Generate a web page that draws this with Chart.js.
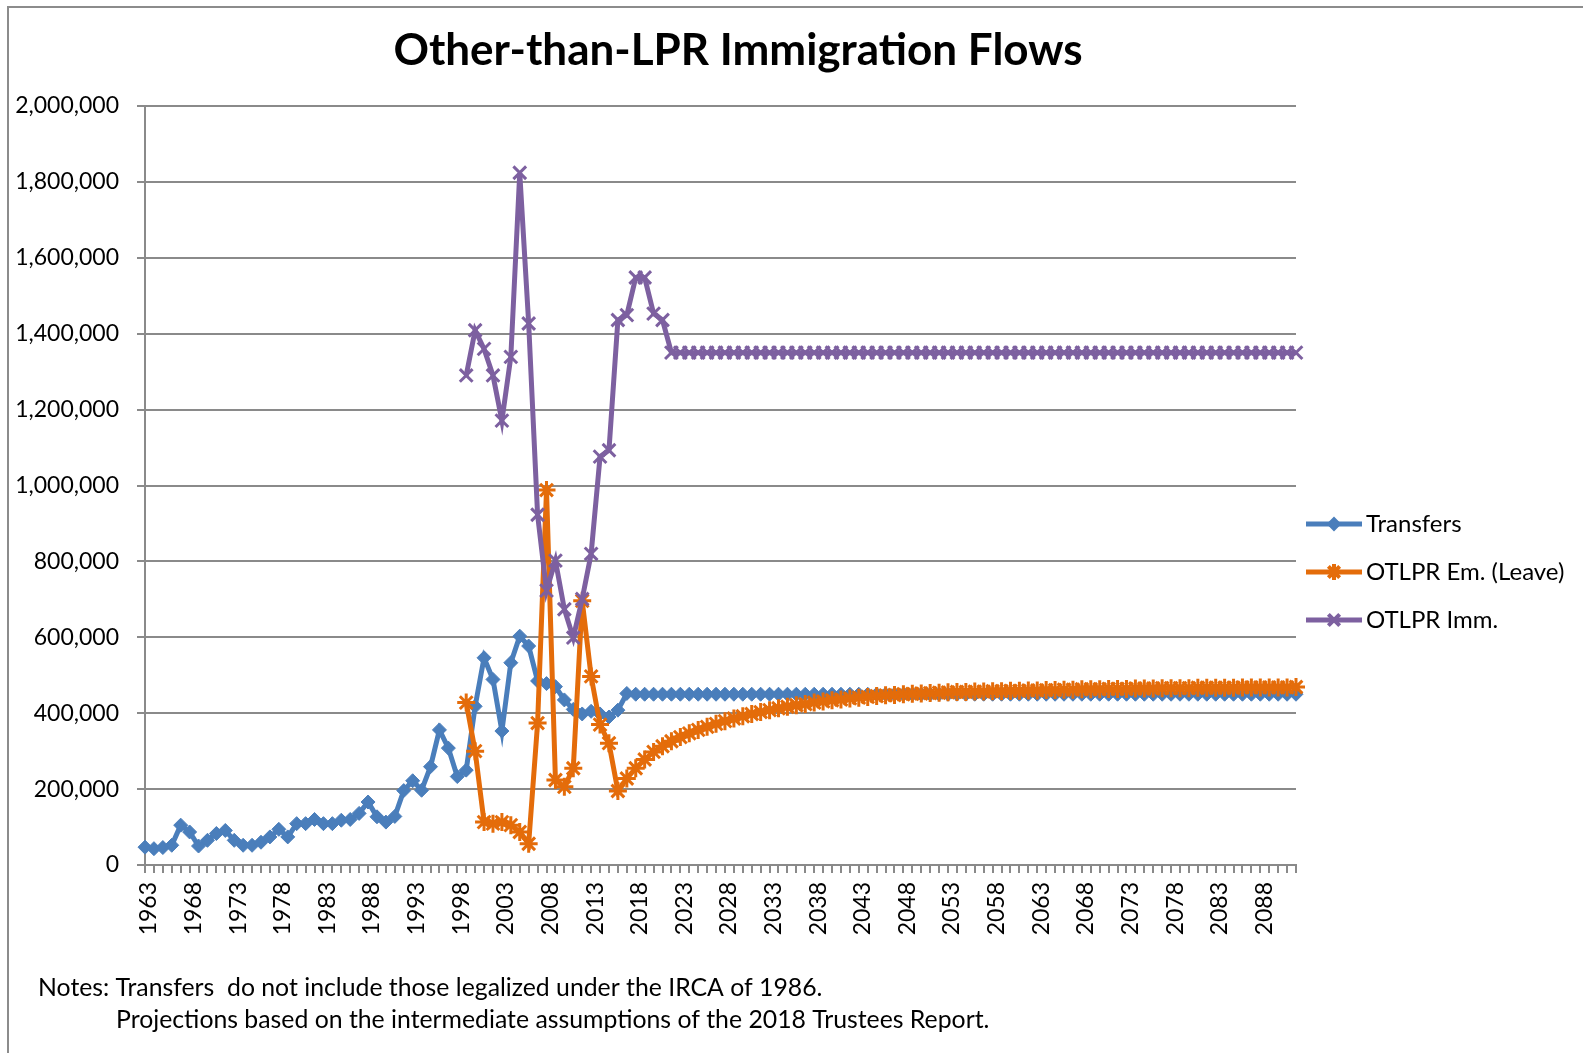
<!DOCTYPE html>
<html>
<head>
<meta charset="utf-8">
<title>Other-than-LPR Immigration Flows</title>
<script src="https://cdn.jsdelivr.net/npm/chart.js@4.4.0/dist/chart.umd.min.js"></script>
<style>
  html, body { margin: 0; padding: 0; background: #fff; }
  #wrap { position: relative; width: 1583px; height: 1053px; overflow: hidden; }
  #frame {
    position: absolute; left: 7px; top: 6px; width: 1620px; height: 1100px;
    border-top: 2px solid #8c8c8c; border-left: 2px solid #8c8c8c;
  }
  canvas { position: absolute; left: 0; top: 0; }
</style>
</head>
<body>
<div id="wrap">
  <div id="frame"></div>
  <canvas id="flowChart" width="1583" height="1053"></canvas>
</div>
<script>
// 数据（单位：千人）
const chartTitle = 'Other-than-LPR Immigration Flows';
const notes = [
  'Notes: Transfers  do not include those legalized under the IRCA of 1986.',
  'Projections based on the intermediate assumptions of the 2018 Trustees Report.'
];

const firstYear = 1963;
const lastYear = 2092;
const years = [];
for (let y = firstYear; y <= lastYear; y++) years.push(String(y));

// Transfers, 1963-2092
const transfers = [
  47, 43, 46, 52, 105, 87, 50, 65, 83, 91,
  65, 52, 52, 60, 74, 94, 74, 109, 109, 120,
  109, 109, 118, 120, 136, 166, 127, 113, 128, 196,
  222, 197, 259, 356, 308, 233, 250, 418, 546, 489,
  353, 533, 603, 577, 485, 478, 470, 435, 410, 398,
  405, 398, 390, 408, 452, 450, 450, 450, 450, 450,
  450, 450, 450, 450, 450, 450, 450, 450, 450, 450,
  450, 450, 450, 450, 450, 450, 450, 450, 450, 450,
  450, 450, 450, 450, 450, 450, 450, 450, 450, 450,
  450, 450, 450, 450, 450, 450, 450, 450, 450, 450,
  450, 450, 450, 450, 450, 450, 450, 450, 450, 450,
  450, 450, 450, 450, 450, 450, 450, 450, 450, 450,
  450, 450, 450, 450, 450, 450, 450, 450, 450, 450
];

// OTLPR 系列从 1999 年开始
const otlprStartYear = 1999;

// OTLPR Em. (Leave), 1999-2092
const otlprEm = [
  428, 300, 113, 109, 113, 105, 87, 56, 374, 988,
  224, 206, 255, 696, 497, 370, 321, 195, 228, 255,
  278, 298, 313, 326, 337, 347, 356, 364, 372, 379,
  386, 392, 398, 403, 408, 413, 417, 421, 424, 428,
  431, 434, 436, 439, 441, 443, 445, 447, 448, 450,
  451, 452, 453, 454, 455, 456, 456, 457, 457, 458,
  458, 459, 459, 460, 460, 461, 461, 462, 462, 463,
  463, 463, 464, 464, 464, 465, 465, 465, 466, 466,
  466, 466, 467, 467, 467, 467, 467, 468, 468, 468,
  468, 468, 468, 469
];

// OTLPR Imm., 1999-2092
const otlprImm = [
  1290, 1409, 1360, 1290, 1171, 1339, 1824, 1427, 923, 723,
  802, 674, 599, 701, 820, 1076, 1093, 1436, 1449, 1548,
  1548, 1453, 1436, 1350, 1350, 1350, 1350, 1350, 1350, 1350,
  1350, 1350, 1350, 1350, 1350, 1350, 1350, 1350, 1350, 1350,
  1350, 1350, 1350, 1350, 1350, 1350, 1350, 1350, 1350, 1350,
  1350, 1350, 1350, 1350, 1350, 1350, 1350, 1350, 1350, 1350,
  1350, 1350, 1350, 1350, 1350, 1350, 1350, 1350, 1350, 1350,
  1350, 1350, 1350, 1350, 1350, 1350, 1350, 1350, 1350, 1350,
  1350, 1350, 1350, 1350, 1350, 1350, 1350, 1350, 1350, 1350,
  1350, 1350, 1350, 1350
];

const seriesNames = ['Transfers', 'OTLPR Em. (Leave)', 'OTLPR Imm.'];
const seriesColors = ['#4a7ebb', '#e46c0a', '#7d60a0'];
const seriesMarkers = ['rectRot', 'star', 'crossRot'];
const markerRadius = [7, 9, 9];
const markerBorder = [1, 3, 3];

const AXIS_GRAY = '#8a8a8a';

/**
 * 补齐起始年份之前的空值，并换算成人数
 */
function toSeries(values, startYear) {
  const pad = startYear - firstYear;
  const out = [];
  for (let i = 0; i < pad; i++) out.push(null);
  values.forEach(v => out.push(v * 1000));
  return out;
}

/**
 * 标题、注释、图例（右侧）
 */
const textPlugin = {
  id: 'textBlocks',
  afterDraw(chart) {
    const ctx = chart.ctx;
    ctx.save();
    ctx.fillStyle = '#000';
    ctx.textBaseline = 'middle';

    ctx.font = 'bold 44px Lato';
    ctx.textAlign = 'center';
    ctx.fillText(chartTitle, 738, 51);

    ctx.font = '24.8px Lato';
    ctx.textAlign = 'left';
    ctx.fillText(notes[0], 38, 988);
    ctx.fillText(notes[1], 116, 1020);

    // 图例：线段 + 标记
    const legendY = [524, 572, 620];
    seriesNames.forEach((name, i) => {
      const y = legendY[i];
      ctx.strokeStyle = seriesColors[i];
      ctx.fillStyle = seriesColors[i];
      ctx.lineWidth = 5;
      ctx.beginPath();
      ctx.moveTo(1306, y);
      ctx.lineTo(1362, y);
      ctx.stroke();
      ctx.lineWidth = markerBorder[i] + 1;
      Chart.helpers.drawPoint(ctx, {
        pointStyle: seriesMarkers[i],
        radius: markerRadius[i] - 1,
        borderWidth: markerBorder[i] + 1,
        rotation: 0
      }, 1334, y);
      ctx.fillStyle = '#000';
      ctx.font = '24px Lato';
      ctx.fillText(name, 1366, y);
    });
    ctx.restore();
  }
};

Chart.defaults.font.family = 'Lato';
Chart.defaults.color = '#000';

const seriesData = [
  toSeries(transfers, firstYear),
  toSeries(otlprEm, otlprStartYear),
  toSeries(otlprImm, otlprStartYear)
];

// Excel 的绘制顺序：后面的系列盖在前面的上面
const datasets = seriesData.map((data, i) => ({
  label: seriesNames[i],
  data: data,
  order: 2 - i,
  borderColor: seriesColors[i],
  backgroundColor: seriesColors[i],
  borderWidth: 5,
  pointStyle: seriesMarkers[i],
  pointRadius: markerRadius[i],
  pointBorderWidth: markerBorder[i],
  pointBorderColor: seriesColors[i],
  pointBackgroundColor: seriesColors[i],
  tension: 0,
  spanGaps: false
}));

new Chart(document.getElementById('flowChart'), {
  type: 'line',
  data: { labels: years, datasets: datasets },
  plugins: [textPlugin],
  options: {
    responsive: false,
    animation: false,
    layout: { padding: { top: 106, right: 287, bottom: 0, left: 0 } },
    plugins: {
      legend: { display: false },
      title: { display: false },
      tooltip: { enabled: false }
    },
    scales: {
      x: {
        type: 'category',
        offset: false,
        afterFit: scale => { scale.height = 188; },
        grid: {
          drawOnChartArea: false,
          drawTicks: true,
          tickLength: 8,
          color: AXIS_GRAY,
          lineWidth: 2
        },
        border: { display: true, color: AXIS_GRAY, width: 2 },
        ticks: {
          autoSkip: false,
          maxRotation: 90,
          minRotation: 90,
          padding: 9,
          labelOffset: 4,
          font: { size: 23 },
          callback: (v, i) => (i % 5 === 0 ? years[i] : '')
        }
      },
      y: {
        min: 0,
        max: 2000000,
        afterFit: scale => { scale.width = 145; },
        grid: { color: AXIS_GRAY, lineWidth: 2, tickLength: 8 },
        border: { display: true, color: AXIS_GRAY, width: 2 },
        ticks: {
          stepSize: 200000,
          padding: 18,
          font: { size: 23 },
          callback: v => v.toLocaleString('en-US')
        }
      }
    }
  }
});
</script>
</body>
</html>
